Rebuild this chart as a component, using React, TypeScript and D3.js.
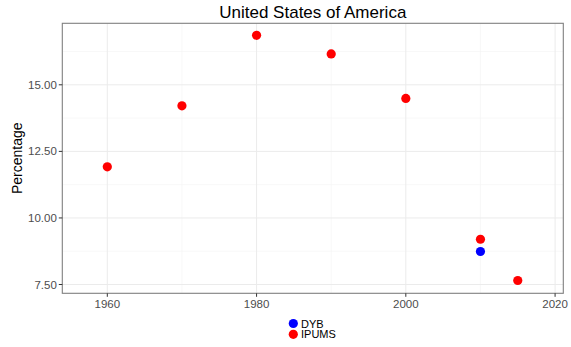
import React from "react";
import * as d3 from "d3";

const ipumsYears = [1960, 1970, 1980, 1990, 2000, 2010, 2015];
const ipumsValues = [11.92, 14.21, 16.86, 16.16, 14.49, 9.2, 7.65];
const dybYears = [2010];
const dybValues = [8.74];
const xTicks = [1960, 1980, 2000, 2020];
const xMinor = [1970, 1990, 2010];
const yTicks = [7.5, 10, 12.5, 15];
const yMinor = [8.75, 11.25, 13.75, 16.25];
const legendItems = [
  { label: "DYB", color: "#0000FF" },
  { label: "IPUMS", color: "#FF0000" },
];

export default function App() {
  const W = 571, H = 347;
  const L = 62.3, R = 563.3, T = 23.3, B = 293.3;
  const x = d3.scaleLinear().domain([1953.97, 2021.1]).range([L, R]);
  const y = d3.scaleLinear().domain([7.17, 17.31]).range([B, T]);
  const font = "'Liberation Sans', Arial, sans-serif";
  return (
    <svg width={W} height={H} style={{ position: "absolute", left: 0, top: 0 }} fontFamily={font}>
      <rect x={0} y={0} width={W} height={H} fill="white" />
      {xMinor.map((t) => (
        <line key={"xm" + t} x1={x(t)} x2={x(t)} y1={T} y2={B} stroke="#f3f3f3" strokeWidth={0.6} />
      ))}
      {yMinor.map((t) => (
        <line key={"ym" + t} x1={L} x2={R} y1={y(t)} y2={y(t)} stroke="#f3f3f3" strokeWidth={0.6} />
      ))}
      {xTicks.map((t) => (
        <line key={"xg" + t} x1={x(t)} x2={x(t)} y1={T} y2={B} stroke="#ebebeb" strokeWidth={1} />
      ))}
      {yTicks.map((t) => (
        <line key={"yg" + t} x1={L} x2={R} y1={y(t)} y2={y(t)} stroke="#ebebeb" strokeWidth={1} />
      ))}
      <rect x={L} y={T} width={R - L} height={B - T} fill="none" stroke="#7f7f7f" strokeWidth={1.1} />
      {xTicks.map((t) => (
        <g key={"xt" + t}>
          <line x1={x(t)} x2={x(t)} y1={B} y2={B + 3.5} stroke="#333" strokeWidth={1} />
          <text x={x(t)} y={B + 15} textAnchor="middle" fontSize={11.5} fill="#4d4d4d">{t}</text>
        </g>
      ))}
      {yTicks.map((t) => (
        <g key={"yt" + t}>
          <line x1={L - 3.5} x2={L} y1={y(t)} y2={y(t)} stroke="#333" strokeWidth={1} />
          <text x={L - 5.5} y={y(t) + 4} textAnchor="end" fontSize={11.5} fill="#4d4d4d">{d3.format(".2f")(t)}</text>
        </g>
      ))}
      {ipumsYears.map((yr, i) => (
        <circle key={"ip" + yr} cx={x(yr)} cy={y(ipumsValues[i])} r={4.6} fill="#FF0000" />
      ))}
      {dybYears.map((yr, i) => (
        <circle key={"dy" + yr} cx={x(yr)} cy={y(dybValues[i])} r={4.6} fill="#0000FF" />
      ))}
      <text x={(L + R) / 2} y={18} textAnchor="middle" fontSize={17} fill="#000">United States of America</text>
      <text transform={`translate(22,${(T + B) / 2}) rotate(-90)`} textAnchor="middle" fontSize={14} fill="#000">Percentage</text>
      {legendItems.map((d, i) => (
        <g key={d.label}>
          <circle cx={293.3} cy={323.5 + i * 10.8} r={4.6} fill={d.color} />
          <text x={301} y={323.5 + i * 10.8 + 4} fontSize={11} fill="#000">{d.label}</text>
        </g>
      ))}
    </svg>
  );
}
